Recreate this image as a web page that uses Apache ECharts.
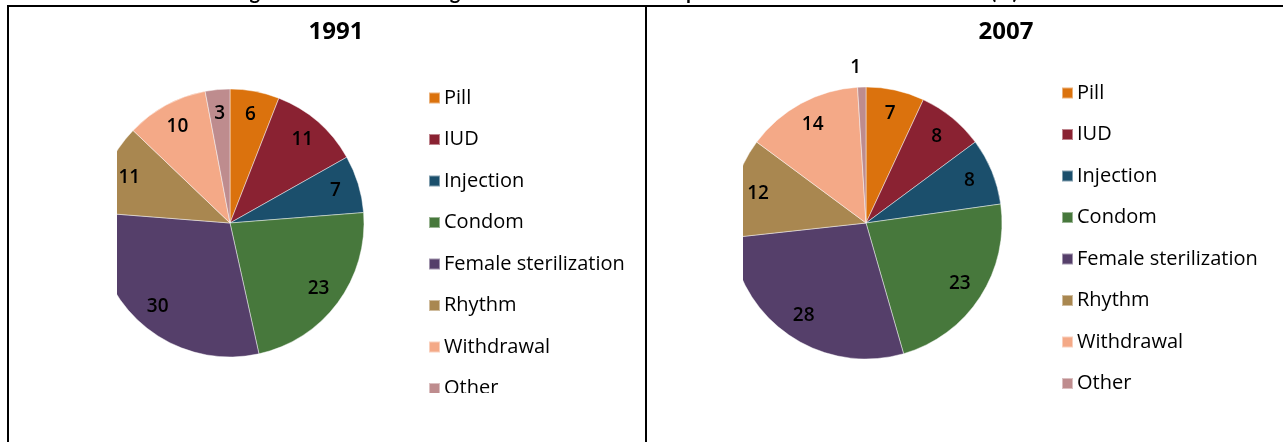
<!DOCTYPE html>
<html>
<head>
<meta charset="utf-8">
<script src="https://cdn.jsdelivr.net/npm/echarts@6/dist/echarts.min.js"></script>
<style>
html,body{margin:0;padding:0;background:#fff;}
#c{width:1283px;height:442px;}
</style>
</head>
<body>
<div id="c"></div>
<script>
// ---- data ----
const categories = ['Pill', 'IUD', 'Injection', 'Condom', 'Female sterilization', 'Rhythm', 'Withdrawal', 'Other'];
const years = ['1991', '2007'];
const values1991 = [6, 11, 7, 23, 30, 11, 10, 3];
const values2007 = [7, 8, 8, 23, 28, 12, 14, 1];
const colors = ['#DB720D', '#8A2232', '#1B4F6C', '#47783C', '#553F6A', '#A98750', '#F4A987', '#BE8C8E'];
const pageTitle = 'Percentage of women ever using each method of contraception in studies of 1991 and 2007 (%)';

// ---- layout ----
const panels = [
  {values: values1991, center: [230, 223], r: 134, titleX: 331, legendLeft: 423, legendTop: 83, clipL: 10, clipR: 117},
  {values: values2007, center: [866, 223], r: 136, titleX: 1001, legendLeft: 1056, legendTop: 78, clipL: 648, clipR: 743}
];
const FONT = '"Open Sans", Lato, sans-serif';

const series = [];
const legends = [];
const titles = [];
panels.forEach((p, i) => {
  const data = categories.map((n, k) => ({name: n, value: p.values[k], itemStyle: {color: colors[k]}}));
  series.push({
    type: 'pie', name: years[i], center: p.center, radius: [0, p.r],
    startAngle: 90, clockwise: true, avoidLabelOverlap: false, silent: true,
    itemStyle: {borderColor: 'rgba(255,255,255,0.45)', borderWidth: 1},
    label: {show: false}, labelLine: {show: false},
    emphasis: {disabled: true}, data: data, z: 2
  });
  const ldata = categories.map((n, k) => {
    const d = {name: n, value: p.values[k]};
    if (p.values[k] <= 1) {
      d.label = {position: 'outside', distanceToLabelLine: 0};
      d.labelLine = {show: false, length: 19, length2: 0};
    }
    return d;
  });
  series.push({
    type: 'pie', name: years[i] + ' labels', center: p.center, radius: [p.r * 0.6, p.r],
    startAngle: 90, clockwise: true, avoidLabelOverlap: false, silent: true,
    itemStyle: {color: 'rgba(0,0,0,0)', borderWidth: 0},
    label: {show: true, position: 'inside', formatter: '{c}', color: '#000', fontFamily: FONT, fontSize: 19, fontWeight: 600},
    labelLine: {show: false},
    emphasis: {disabled: true}, data: ldata, z: 3
  });
  legends.push({
    orient: 'vertical', left: p.legendLeft, top: p.legendTop,
    icon: 'rect', itemWidth: 11, itemHeight: 11, itemGap: 21.5,
    selectedMode: false,
    textStyle: {fontFamily: FONT, fontSize: 20, color: '#000', lineHeight: 20, padding: [0, 0, 0, -1]},
    data: categories.map((n, k) => ({name: n, itemStyle: {color: colors[k]}}))
  });
  titles.push({
    text: years[i], left: p.titleX, top: 15, textAlign: 'center',
    textStyle: {fontFamily: FONT, fontSize: 24, fontWeight: 'bold', color: '#000'}
  });
});

const graphics = [];
panels.forEach(p => {
  graphics.push({type: 'rect', z: 100, silent: true, shape: {x: p.clipL, y: 7, width: p.clipR - p.clipL, height: 435}, style: {fill: '#fff'}});
});
graphics.push({type: 'rect', z: 100, silent: true, shape: {x: 10, y: 393, width: 1273, height: 49}, style: {fill: '#fff'}});
graphics.push({type: 'text', z: 90, silent: true, x: 1018, y: 3, style: {text: pageTitle, font: 'bold 20px Lato, sans-serif', fill: '#000', align: 'right', verticalAlign: 'bottom'}});
graphics.push({type: 'line', z: 110, silent: true, shape: {x1: 7, y1: 6, x2: 1283, y2: 6}, style: {stroke: '#000', lineWidth: 2}});
graphics.push({type: 'line', z: 110, silent: true, shape: {x1: 8, y1: 5, x2: 8, y2: 442}, style: {stroke: '#000', lineWidth: 2}});
graphics.push({type: 'line', z: 110, silent: true, shape: {x1: 646, y1: 5, x2: 646, y2: 442}, style: {stroke: '#000', lineWidth: 2}});

const chart = echarts.init(document.getElementById('c'), null, {renderer: 'canvas'});
chart.setOption({
  animation: false,
  backgroundColor: '#fff',
  title: titles,
  legend: legends,
  series: series,
  graphic: graphics
});
</script>
</body>
</html>
